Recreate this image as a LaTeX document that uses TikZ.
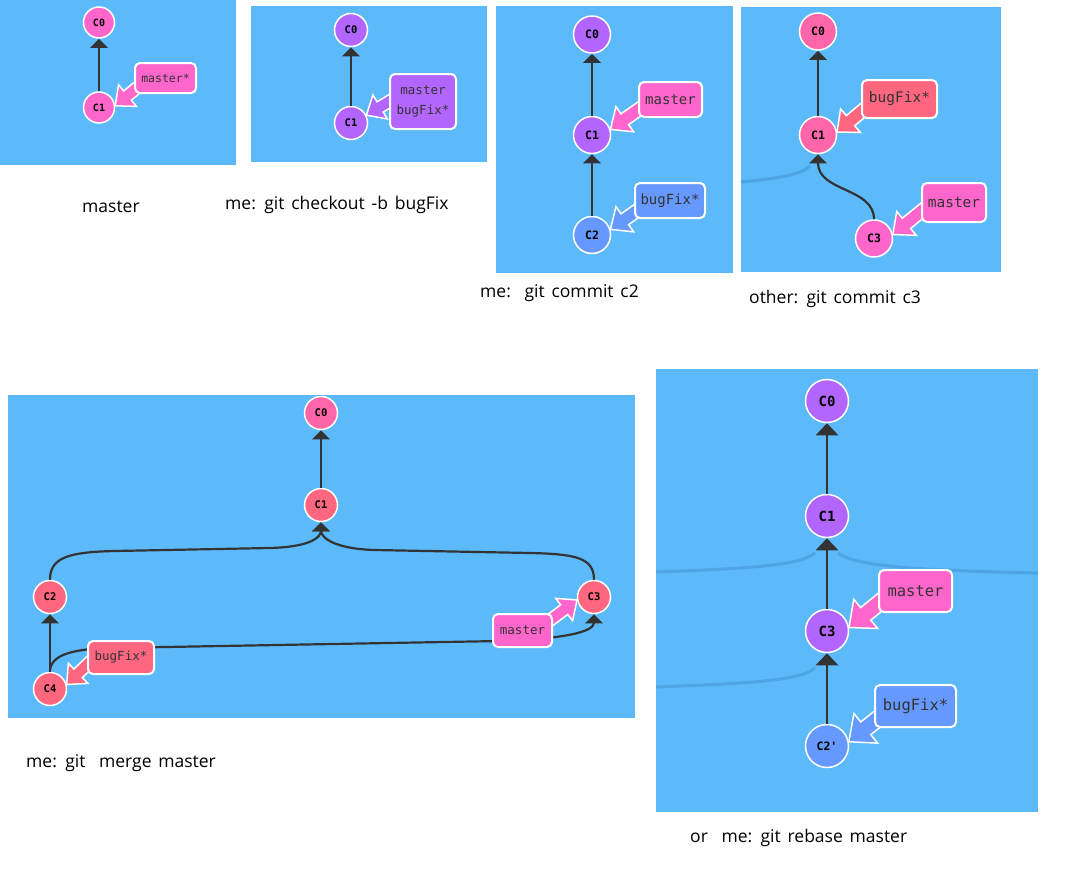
\documentclass[tikz,border=0pt]{standalone}
\usepackage{fontspec}
\setmainfont{Open Sans}[WordSpace=1.5]
\setmonofont{DejaVu Sans Mono}
\usetikzlibrary{arrows.meta,calc}
\definecolor{bgblue}{HTML}{5CBAFB}
\definecolor{gpink}{HTML}{FF66CC}
\definecolor{gpurple}{HTML}{B266FF}
\definecolor{gblue}{HTML}{6699FF}
\definecolor{gred}{HTML}{FF6680}
\definecolor{grose}{HTML}{FF66AA}
\definecolor{arrowgray}{HTML}{333333}
\definecolor{faintblue}{HTML}{4EA5E3}
\newcommand{\fatptr}[4]{%
  \path ($(#2)!#4*16pt!(#1)$) coordinate (fph);
  \filldraw[fill=#3,draw=white,line width=1.5pt,line join=miter]
    ($(#1)!#4*6pt!90:(#2)$) -- ($(fph)!#4*6pt!90:(#2)$) -- ($(fph)!#4*14pt!90:(#2)$)
    -- (#2) -- ($(fph)!#4*14pt!-90:(#2)$) -- ($(fph)!#4*6pt!-90:(#2)$)
    -- ($(#1)!#4*6pt!-90:(#2)$) -- cycle;}
\tikzset{
  commit/.style={circle, fill=#1, draw=white, line width=1.5pt, inner sep=0pt, text=black},
  branch/.style={fill=#1, draw=white, line width=2pt, rounded corners=5pt, text=black!80,
    align=center, inner sep=0pt},
  parent/.style={draw=arrowgray, line width=2.2pt, -{Triangle[width=17pt,length=9pt]}},
  bigparent/.style={draw=arrowgray, line width=2.8pt, -{Triangle[width=22pt,length=12pt]}},
  faint/.style={draw=faintblue, line width=3pt},
  caption/.style={anchor=west, inner sep=0pt, text=black, font=\fontsize{17.5}{20}\selectfont},
}
\begin{document}
\begin{tikzpicture}[x=1pt,y=-1pt]
\useasboundingbox (0,0) rectangle (1066,886);
% backgrounds
\fill[bgblue] (0,0) rectangle (236,165);
\fill[bgblue] (251,6) rectangle (487,162);
\fill[bgblue] (496,6) rectangle (733,273);
\fill[bgblue] (741,7) rectangle (1001,272);
\fill[bgblue] (8,395) rectangle (635,718);
\fill[bgblue] (656,369) rectangle (1038,812);
% faint lines
\draw[faint] (741,182) .. controls (780,178) and (800,175) .. (810,166);
\draw[faint] (656,572) .. controls (760,568) and (800,565) .. (815,553);
\draw[faint] (838,553) .. controls (855,565) and (900,570) .. (1038,573);
\draw[faint] (656,687) .. controls (760,683) and (800,680) .. (815,668);

% ---------- panel 1 ----------
\begin{scope}[every node/.append style={font=\ttfamily\bfseries\fontsize{10}{10}\selectfont}]
\node[commit=gpink, minimum size=31pt] (p1c0) at (99,22.5) {C0};
\node[commit=gpink, minimum size=31pt] (p1c1) at (99,107.5) {C1};
\end{scope}
\draw[parent] (p1c1) -- (p1c0);
\coordinate (p1t) at (150,77);
\fatptr{p1t}{p1c1.6}{gpink}{1}
\node[branch=gpink, minimum width=61pt, minimum height=30pt, font=\ttfamily\fontsize{11.5}{12}\selectfont] (p1m) at (165.5,78) {master*};
\node[caption] (cap1) at (82,207) {master};

% ---------- panel 2 ----------
\begin{scope}[every node/.append style={font=\ttfamily\bfseries\fontsize{10.5}{10.5}\selectfont}]
\node[commit=gpurple, minimum size=33pt] (p2c0) at (351,30) {C0};
\node[commit=gpurple, minimum size=33pt] (p2c1) at (351,123) {C1};
\end{scope}
\draw[parent] (p2c1) -- (p2c0);
\coordinate (p2t) at (405,92);
\fatptr{p2t}{p2c1.27}{gpurple}{1}
\node[branch=gpurple, minimum width=66pt, minimum height=55pt, font=\ttfamily\fontsize{12.5}{20}\selectfont] (p2m) at (423,101.5) {master\\bugFix*};
\node[caption] (cap2) at (225,205) {me: git checkout -b bugFix};

% ---------- panel 3 ----------
\begin{scope}[every node/.append style={font=\ttfamily\bfseries\fontsize{11.5}{11.5}\selectfont}]
\node[commit=gpurple, minimum size=37pt] (p3c0) at (592,34.5) {C0};
\node[commit=gpurple, minimum size=37pt] (p3c1) at (592,135) {C1};
\node[commit=gblue, minimum size=37pt] (p3c2) at (592,235) {C2};
\end{scope}
\draw[parent] (p3c1) -- (p3c0);
\draw[parent] (p3c2) -- (p3c1);
\coordinate (p3t1) at (655,98);
\coordinate (p3t2) at (655,198);
\fatptr{p3t1}{p3c1.17}{gpink}{1.1}
\fatptr{p3t2}{p3c2.17}{gblue}{1.1}
\node[branch=gpink, minimum width=63pt, minimum height=35pt, font=\ttfamily\fontsize{14}{14}\selectfont] (p3m) at (670.5,99.5) {master};
\node[branch=gblue, minimum width=70pt, minimum height=35pt, font=\ttfamily\fontsize{14}{14}\selectfont] (p3b) at (670,200.5) {bugFix*};
\node[caption] (cap3) at (480,293) {me:\ \ git commit c2};

% ---------- panel 4 ----------
\begin{scope}[every node/.append style={font=\ttfamily\bfseries\fontsize{11.5}{11.5}\selectfont}]
\node[commit=grose, minimum size=37pt] (p4c0) at (818,31.5) {C0};
\node[commit=grose, minimum size=37pt] (p4c1) at (818,135) {C1};
\node[commit=gpink, minimum size=37pt] (p4c3) at (874,238.5) {C3};
\end{scope}
\draw[parent] (p4c1) -- (p4c0);
\draw[parent] (p4c3.north) .. controls +(0,-32) and +(0,38) .. (p4c1.south);
\coordinate (p4t1) at (880,96);
\coordinate (p4t2) at (940,196);
\fatptr{p4t1}{p4c1.9}{gred}{1.1}
\fatptr{p4t2}{p4c3.12}{gpink}{1.1}
\node[branch=gred, minimum width=75pt, minimum height=38pt, font=\ttfamily\fontsize{14.5}{14.5}\selectfont] (p4b) at (899.5,99) {bugFix*};
\node[branch=gpink, minimum width=64pt, minimum height=39pt, font=\ttfamily\fontsize{14.5}{14.5}\selectfont] (p4m) at (954,202.5) {master};
\node[caption] (cap4) at (749,299) {other: git commit c3};

% ---------- bottom left: merge ----------
\begin{scope}[every node/.append style={font=\ttfamily\bfseries\fontsize{10.5}{10.5}\selectfont}]
\node[commit=grose, minimum size=33pt] (mc0) at (321,413) {C0};
\node[commit=gred, minimum size=33pt] (mc1) at (321,505) {C1};
\node[commit=gred, minimum size=33pt] (mc2) at (50,597) {C2};
\node[commit=gred, minimum size=33pt] (mc3) at (594,597) {C3};
\node[commit=gred, minimum size=33pt] (mc4) at (50,689) {C4};
\end{scope}
\draw[parent] (mc1) -- (mc0);
\draw[parent] (mc4) -- (mc2);
\draw[parent] (mc2.north) .. controls +(0,-22) and (68,552) .. (115,551) -- (270,548)
   .. controls (308,547) and ($(mc1.south)+(0,16)$) .. (mc1.south);
\draw[parent] (mc3.north) .. controls +(0,-22) and (576,554) .. (530,553) -- (375,550)
   .. controls (336,549) and ($(mc1.south)+(0,16)$) .. (mc1.south);
\draw[parent] (mc4.north) .. controls +(0,-16) and (70,649) .. (110,648) -- (500,641)
   .. controls (562,639) and ($(mc3.south)+(0,18)$) .. (mc3.south);
\coordinate (mt1) at (100,652);
\coordinate (mt2) at (545,624);
\fatptr{mt1}{mc4.15}{gred}{1}
\fatptr{mt2}{mc3.190}{gpink}{1}
\node[branch=gred, minimum width=66pt, minimum height=33pt, font=\ttfamily\fontsize{12.5}{12.5}\selectfont] (mb) at (121,657.5) {bugFix*};
\node[branch=gpink, minimum width=59pt, minimum height=33pt, font=\ttfamily\fontsize{12.5}{12.5}\selectfont] (mm) at (522.5,630.5) {master};
\node[caption] (cap5) at (26,763) {me: git\ \ merge master};

% ---------- bottom right: rebase ----------
\begin{scope}[every node/.append style={font=\ttfamily\bfseries\fontsize{14}{14}\selectfont}]
\node[commit=gpurple, minimum size=43pt] (rc0) at (827,401) {C0};
\node[commit=gpurple, minimum size=43pt] (rc1) at (827,516) {C1};
\node[commit=gpurple, minimum size=43pt] (rc3) at (827,631) {C3};
\node[commit=gblue, minimum size=43pt, font=\ttfamily\bfseries\fontsize{11.5}{11.5}\selectfont] (rc2) at (827,746) {C2'};
\end{scope}
\draw[bigparent] (rc1) -- (rc0);
\draw[bigparent] (rc3) -- (rc1);
\draw[bigparent] (rc2) -- (rc3);
\coordinate (rt1) at (895,590);
\coordinate (rt2) at (895,705);
\fatptr{rt1}{rc3.9}{gpink}{1.35}
\fatptr{rt2}{rc2.11}{gblue}{1.35}
\node[branch=gpink, minimum width=73pt, minimum height=42pt, font=\ttfamily\fontsize{15.5}{15.5}\selectfont] (rm) at (915.5,591) {master};
\node[branch=gblue, minimum width=81pt, minimum height=42pt, font=\ttfamily\fontsize{15.5}{15.5}\selectfont] (rb) at (915.5,706) {bugFix*};
\node[caption] (cap6) at (690,838) {or\ \ me: git rebase master};
\end{tikzpicture}
\end{document}
